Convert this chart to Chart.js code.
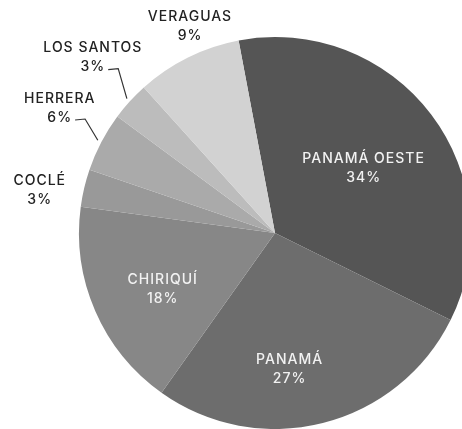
<!DOCTYPE html>
<html>
<head>
<meta charset="utf-8">
<script src="https://cdn.jsdelivr.net/npm/chart.js@4.4.1/dist/chart.umd.min.js"></script>
<style>
  html, body { margin: 0; padding: 0; background: #fff; overflow: hidden; }
  #wrap { width: 462px; height: 429px; overflow: hidden; }
</style>
</head>
<body>
<div id="wrap"><canvas id="grafico" width="550" height="429"></canvas></div>
<script>
// provincias, en el orden de las porciones (sentido horario)
const provincias = ['PANAMÁ OESTE', 'PANAMÁ', 'CHIRIQUÍ', 'COCLÉ', 'HERRERA', 'LOS SANTOS', 'VERAGUAS'];
// tamaño de cada porción
const valores = [35.3, 27.5, 17.3, 3.1, 4.9, 3.2, 8.7];
// porcentajes rotulados
const rotulos = ['34%', '27%', '18%', '3%', '6%', '3%', '9%'];
const colores = ['#555555', '#6d6d6d', '#878787', '#999999', '#aaaaaa', '#bcbcbc', '#d2d2d2'];

// ubicación de los rótulos: factor del radio y desvío de ángulo (grados)
const posRotulo = [
  { f: 0.56, da: 1, dentro: true },
  { f: 0.70, da: 8, dentro: true },
  { f: 0.64, da: -3, dentro: true },
  { f: 1.22, da: -3, dentro: false },
  { f: 1.27, da: 2.5, dentro: false, guia: true },
  { f: 1.29, da: 1.7, dentro: false, guia: true },
  { f: 1.14, da: 4, dentro: false }
];

const rotulosPlugin = {
  id: 'rotulos',
  afterDatasetsDraw(chart) {
    const ctx = chart.ctx;
    const arcs = chart.getDatasetMeta(0).data;
    ctx.save();
    ctx.textAlign = 'center';
    ctx.textBaseline = 'middle';
    ctx.font = '500 14px Inter, "Open Sans", sans-serif';
    ctx.letterSpacing = '1px';
    arcs.forEach((arc, i) => {
      const p = arc.getProps(['x', 'y', 'startAngle', 'endAngle', 'outerRadius'], true);
      const mid = (p.startAngle + p.endAngle) / 2;
      const cfg = posRotulo[i];
      const a = mid + cfg.da * Math.PI / 180;
      const lx = p.x + Math.cos(a) * p.outerRadius * cfg.f;
      const ly = p.y + Math.sin(a) * p.outerRadius * cfg.f;
      ctx.fillStyle = cfg.dentro ? '#f2f2f2' : '#222222';
      ctx.fillText(provincias[i], lx, ly - 9.5);
      ctx.fillText(rotulos[i], lx, ly + 9.5);
      if (cfg.guia) {
        // línea guía: desde el borde de la porción hasta el porcentaje
        const w = ctx.measureText(rotulos[i]).width;
        const ex = p.x + Math.cos(mid) * (p.outerRadius + 4);
        const ey = p.y + Math.sin(mid) * (p.outerRadius + 4);
        const hx = lx + w / 2 + 13;
        const hy = ly + 11;
        ctx.strokeStyle = '#333333';
        ctx.lineWidth = 1.2;
        ctx.beginPath();
        ctx.moveTo(lx + w / 2 + 3, hy + 1);
        ctx.lineTo(hx, hy);
        ctx.lineTo(ex, ey);
        ctx.stroke();
      }
    });
    ctx.restore();
  }
};

new Chart(document.getElementById('grafico').getContext('2d'), {
  type: 'pie',
  data: {
    labels: provincias,
    datasets: [{
      data: valores,
      backgroundColor: colores,
      borderWidth: 0,
      hoverOffset: 0
    }]
  },
  options: {
    responsive: false,
    devicePixelRatio: 1,
    animation: false,
    rotation: -10.7,
    layout: { padding: { top: 37, bottom: 0, left: 0, right: 0 } },
    plugins: {
      legend: { display: false },
      tooltip: { enabled: false }
    }
  },
  plugins: [rotulosPlugin]
});
</script>
</body>
</html>
